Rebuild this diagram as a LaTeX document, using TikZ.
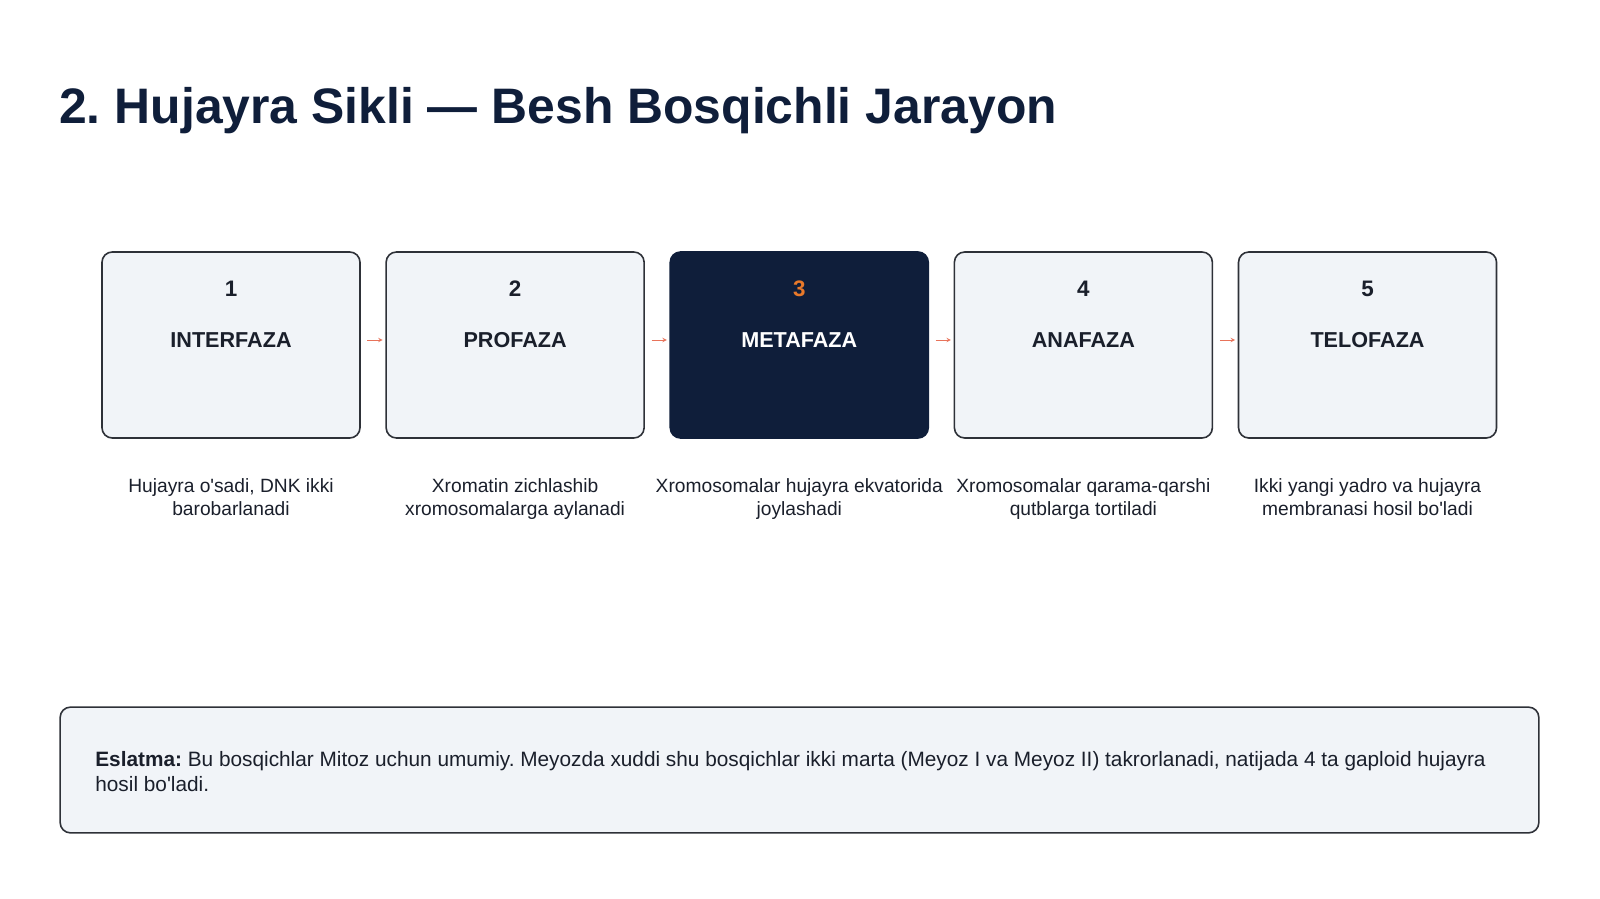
\documentclass[tikz,border=0pt]{standalone}
\usepackage{fontspec}
\setmainfont{Liberation Sans}[Ligatures=TeXOff]
\usepackage{tikz}
\usetikzlibrary{positioning}
\usetikzlibrary{calc}
\definecolor{navy}{HTML}{0F1E3A}
\definecolor{ink}{HTML}{1A1F2B}
\definecolor{cardbg}{HTML}{F1F4F8}
\definecolor{cardline}{HTML}{2E3138}
\definecolor{accent}{HTML}{E8792A}
\definecolor{arrowred}{HTML}{E8735A}
\tikzset{
  card/.style={draw=cardline, line width=1.2pt, fill=cardbg, rounded corners=7.7pt,
    minimum width=193.5pt, minimum height=139.5pt, inner sep=0pt},
  cardon/.style={card, draw=navy, fill=navy},
  numtext/.style={font=\fontsize{16.8}{18}\selectfont\bfseries, text=ink},
  nametext/.style={font=\fontsize{16.2}{18}\selectfont\bfseries, text=ink},
  desctext/.style={font=\fontsize{14.4}{17.5}\selectfont, text=ink, align=center, anchor=north},
  flow/.style={->, >=stealth, arrowred, line width=0.5pt, shorten >=2pt, shorten <=5pt},
}

\begin{document}
\frenchspacing
\begin{tikzpicture}[x=0.75pt, y=-0.75pt]
        \useasboundingbox (0,0) rectangle (1600,899);
        % title
        \node[anchor=base west, inner sep=0pt, text=navy,
          font=\fontsize{37.4}{40}\selectfont\bfseries] (title) at (59,123)
          {2. Hujayra Sikli — Besh Bosqichli Jarayon};
        % stage cards
        \node[card] (b1) at (231,345) {};
        \node[card, right=18.4pt of b1] (b2) {};
        \node[cardon, right=18.4pt of b2] (b3) {};
        \node[card, right=18.4pt of b3] (b4) {};
        \node[card, right=18.4pt of b4] (b5) {};
        % numbers
        \node[numtext] (n1) at ([yshift=-28.3pt]b1.north) {1};
        \node[numtext] (n2) at ([yshift=-28.3pt]b2.north) {2};
        \node[numtext, text=accent] (n3) at ([yshift=-28.3pt]b3.north) {3};
        \node[numtext] (n4) at ([yshift=-28.3pt]b4.north) {4};
        \node[numtext] (n5) at ([yshift=-28.3pt]b5.north) {5};
        % names
        \node[nametext] (t1) at ([yshift=-66.6pt]b1.north) {INTERFAZA};
        \node[nametext] (t2) at ([yshift=-66.6pt]b2.north) {PROFAZA};
        \node[nametext, text=white] (t3) at ([yshift=-66.6pt]b3.north) {METAFAZA};
        \node[nametext] (t4) at ([yshift=-66.6pt]b4.north) {ANAFAZA};
        \node[nametext] (t5) at ([yshift=-66.6pt]b5.north) {TELOFAZA};
        % descriptions
        \node[desctext] (d1) at ([yshift=-26pt]b1.south) {Hujayra o'sadi, DNK ikki\\barobarlanadi};
        \node[desctext] (d2) at ([yshift=-26pt]b2.south) {Xromatin zichlashib\\xromosomalarga aylanadi};
        \node[desctext] (d3) at ([yshift=-26pt]b3.south) {Xromosomalar hujayra ekvatorida\\joylashadi};
        \node[desctext] (d4) at ([yshift=-26pt]b4.south) {Xromosomalar qarama-qarshi\\qutblarga tortiladi};
        \node[desctext] (d5) at ([yshift=-26pt]b5.south) {Ikki yangi yadro va hujayra\\membranasi hosil bo'ladi};
        % arrows
        \draw[flow] (b1.east |- t1) -- (b2.west |- t2);
        \draw[flow] (b2.east |- t2) -- (b3.west |- t3);
        \draw[flow] (b3.east |- t3) -- (b4.west |- t4);
        \draw[flow] (b4.east |- t4) -- (b5.west |- t5);
        % note
        \node[draw=cardline, line width=1.2pt, fill=cardbg, rounded corners=7.7pt,
          minimum width=1109pt, minimum height=94.3pt, inner sep=0pt] (note) at (799.5,770) {};
        \node[anchor=west, inner sep=0pt, align=left,
          font=\fontsize{15.6}{18.4}\selectfont, text=ink] (notetext) at ([xshift=26.8pt,yshift=-1pt]note.west)
          {\textbf{Eslatma:} Bu bosqichlar Mitoz uchun umumiy. Meyozda xuddi shu bosqichlar ikki marta (Meyoz I va Meyoz II) takrorlanadi, natijada 4 ta gaploid hujayra\\hosil bo'ladi.};
    \end{tikzpicture}
\end{document}
